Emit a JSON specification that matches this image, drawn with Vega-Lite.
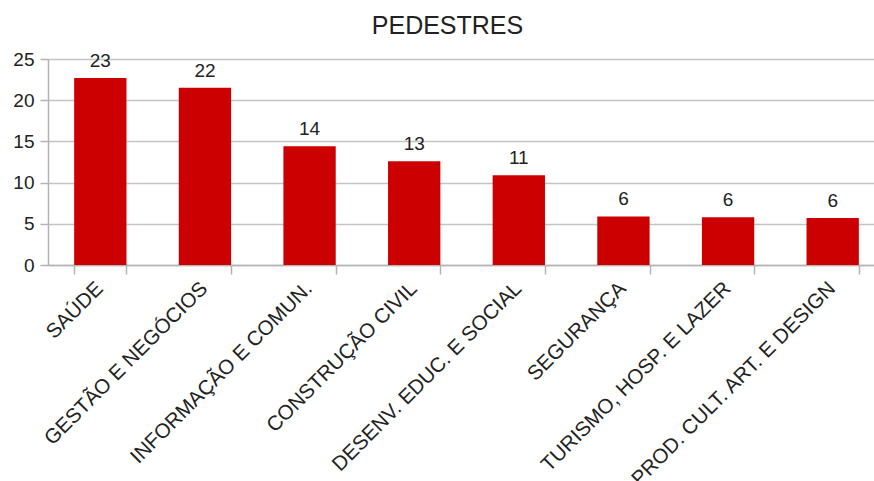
{
  "$schema": "https://vega.github.io/schema/vega-lite/v6.json",
  "autosize": {"type": "none"},
  "width": 837,
  "height": 206,
  "padding": {"left": 48, "top": 59, "right": -11, "bottom": 216},
  "background": "white",
  "title": {"text": "PEDESTRES", "font": "Liberation Sans", "fontSize": 25, "fontWeight": "normal", "color": "#222222", "anchor": "middle", "dx": -19, "offset": 11, "frame": "group"},
  "config": {"view": {"stroke": null}},
  "data": {"values": [
    {"curso": "SAÚDE", "valor": 22.7},
    {"curso": "GESTÃO E NEGÓCIOS", "valor": 21.5},
    {"curso": "INFORMAÇÃO E COMUN.", "valor": 14.4},
    {"curso": "CONSTRUÇÃO CIVIL", "valor": 12.6},
    {"curso": "DESENV. EDUC. E SOCIAL", "valor": 10.9},
    {"curso": "SEGURANÇA", "valor": 5.9},
    {"curso": "TURISMO, HOSP. E LAZER", "valor": 5.8},
    {"curso": "PROD. CULT. ART. E DESIGN", "valor": 5.7}
  ]},
  "encoding": {
    "x": {"field": "curso", "type": "nominal", "sort": null,
      "scale": {"paddingInner": 0.5, "paddingOuter": 0.25},
      "axis": {"title": null, "labelAngle": -45, "labelFont": "Liberation Sans", "labelFontSize": 20.5, "labelColor": "#222222", "tickBand": "extent", "tickSize": 9, "tickColor": "#b3b3b3", "tickWidth": 1.5, "domainColor": "#b3b3b3", "domainWidth": 1.5, "labelPadding": 4, "labelOffset": -8, "labelLimit": 0, "labelOverlap": false}},
    "y": {"field": "valor", "type": "quantitative",
      "scale": {"domain": [0, 25], "nice": false},
      "axis": {"title": null, "values": [0, 5, 10, 15, 20, 25], "labelFont": "Liberation Sans", "labelFontSize": 19, "labelColor": "#222222", "tickSize": 8, "tickColor": "#b3b3b3", "tickWidth": 1.5, "domainColor": "#b3b3b3", "domainWidth": 1.5, "gridColor": "#c4c4c4", "gridWidth": 1.5, "labelPadding": 6}}
  },
  "layer": [
    {"mark": {"type": "bar", "color": "#cc0000"}},
    {"mark": {"type": "text", "font": "Liberation Sans", "fontSize": 19, "color": "#222222", "baseline": "alphabetic", "dy": -11},
     "encoding": {"text": {"field": "valor", "type": "quantitative", "format": ".0f"}}}
  ]
}
